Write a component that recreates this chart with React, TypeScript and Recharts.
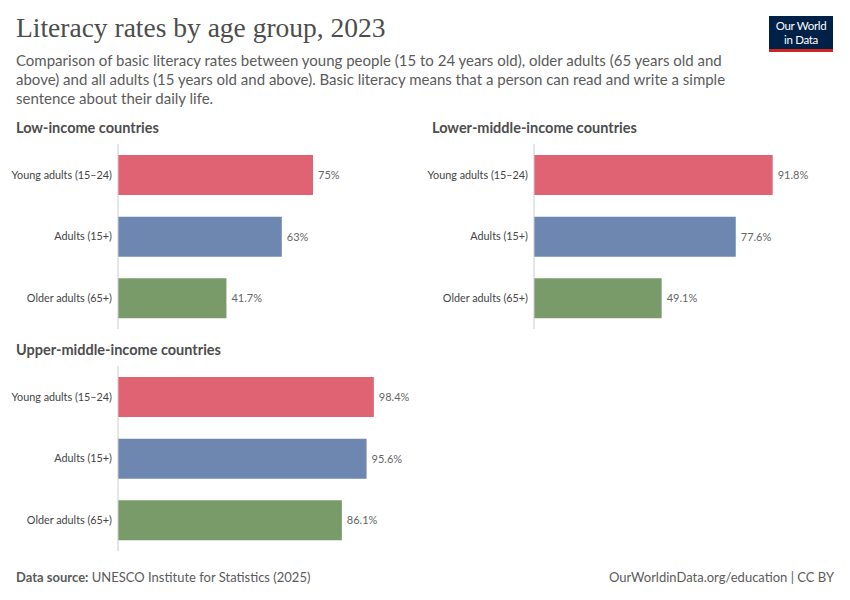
import React from 'react';
import { BarChart, Bar, XAxis, YAxis, Cell, LabelList } from 'recharts';

const ageGroups = ['Young adults (15–24)', 'Adults (15+)', 'Older adults (65+)'];
const groupColors = ['#e06373', '#6e87b0', '#799b6a'];

const lowIncome = [75, 63, 41.7];
const lowerMiddleIncome = [91.8, 77.6, 49.1];
const upperMiddleIncome = [98.4, 95.6, 86.1];

const FONT = 'Lato, "Noto Sans", sans-serif';

const toRows = (values: number[]) =>
  ageGroups.map((group, i) => ({ group, value: values[i], color: groupColors[i] }));

// single-line category label, right aligned against the axis
const GroupTick = (props: any) => {
  const { x, y, payload } = props;
  return (
    <text
      x={x}
      y={y}
      dy="0.355em"
      textAnchor="end"
      fontFamily={FONT}
      fontSize={10.8}
      fill="#444444"
    >
      {payload.value}
    </text>
  );
};

interface PanelProps {
  title: string;
  values: number[];
  left: number;
  top: number;
}

function IncomePanel({ title, values, left, top }: PanelProps) {
  const rows = toRows(values);
  return (
    <>
      <div
        style={{
          position: 'absolute',
          left: left + 16,
          top: top - 25,
          fontFamily: FONT,
          fontSize: 14.5,
          fontWeight: 700,
          color: '#4d4d4d',
          whiteSpace: 'nowrap',
        }}
      >
        {title}
      </div>
      <div style={{ position: 'absolute', left, top }}>
        <BarChart
          width={420}
          height={185}
          data={rows}
          layout="vertical"
          margin={{ top: 0, right: 42, bottom: 0, left: 0 }}
        >
          <XAxis type="number" domain={[0, 100]} hide />
          <YAxis
            type="category"
            dataKey="group"
            width={118}
            tickLine={false}
            tickSize={0}
            tickMargin={6}
            axisLine={{ stroke: '#cccccc' }}
            tick={<GroupTick />}
          />
          <Bar dataKey="value" barSize={40} isAnimationActive={false}>
            {rows.map((row, index) => (
              <Cell key={`cell-${index}`} fill={row.color} />
            ))}
            <LabelList
              dataKey="value"
              position="right"
              offset={5}
              formatter={(v: number) => `${v}%`}
              style={{ fontFamily: FONT, fontSize: 11, fill: '#666666' }}
            />
          </Bar>
        </BarChart>
      </div>
    </>
  );
}

export default function App() {
  return (
    <div
      style={{
        position: 'absolute',
        left: 0,
        top: 0,
        width: 850,
        height: 600,
        background: '#ffffff',
        overflow: 'hidden',
      }}
    >
      <div
        style={{
          position: 'absolute',
          left: 16,
          top: 12,
          fontFamily: '"Liberation Serif", "DejaVu Serif", serif',
          fontSize: 27.5,
          color: '#4d4d4d',
          whiteSpace: 'nowrap',
        }}
      >
        Literacy rates by age group, 2023
      </div>
      <div
        style={{
          position: 'absolute',
          left: 16,
          top: 51,
          fontFamily: FONT,
          fontSize: 15,
          lineHeight: '19px',
          color: '#5b5b5b',
          whiteSpace: 'nowrap',
        }}
      >
        Comparison of basic literacy rates between young people (15 to 24 years old), older adults (65 years old and
        <br />
        above) and all adults (15 years old and above). Basic literacy means that a person can read and write a simple
        <br />
        sentence about their daily life.
      </div>

      {/* logo */}
      <div
        style={{
          position: 'absolute',
          left: 769,
          top: 16,
          width: 64,
          height: 36,
          background: '#002147',
          borderBottom: '3px solid #ce261e',
          boxSizing: 'border-box',
          color: '#ffffff',
          fontFamily: FONT,
          fontSize: 11.5,
          lineHeight: '14px',
          textAlign: 'center',
          paddingTop: 3,
          letterSpacing: -0.3,
        }}
      >
        <div>Our World</div>
        <div>in Data</div>
      </div>

      <IncomePanel title="Low-income countries" values={lowIncome} left={0} top={144} />
      <IncomePanel title="Lower-middle-income countries" values={lowerMiddleIncome} left={416} top={144} />
      <IncomePanel title="Upper-middle-income countries" values={upperMiddleIncome} left={0} top={366} />

      <div
        style={{
          position: 'absolute',
          left: 16,
          top: 569,
          fontFamily: FONT,
          fontSize: 13,
          color: '#5b5b5b',
          whiteSpace: 'nowrap',
        }}
      >
        <span style={{ fontWeight: 700 }}>Data source:</span> UNESCO Institute for Statistics (2025)
      </div>
      <div
        style={{
          position: 'absolute',
          right: 16,
          top: 569,
          fontFamily: FONT,
          fontSize: 13,
          color: '#5b5b5b',
          whiteSpace: 'nowrap',
        }}
      >
        OurWorldinData.org/education | CC BY
      </div>
    </div>
  );
}
